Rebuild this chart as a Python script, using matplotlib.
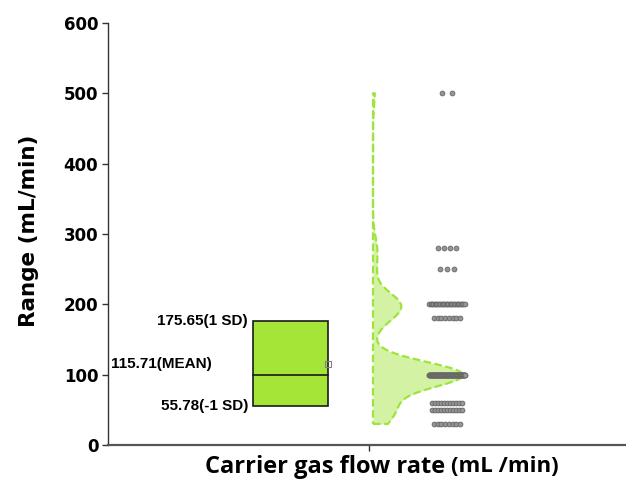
import numpy as np
import matplotlib.pyplot as plt

# flow-rate readings grouped by value (mL/min) and how many times each occurs
flow_values = [30, 50, 60, 100, 180, 200, 250, 280, 500]
flow_counts = [8, 11, 11, 100, 8, 27, 3, 4, 2]

# summary statistics shown on the box
mean_val = 115.71
sd_hi = 175.65
sd_lo = 55.78
median_val = 100

yticks = [0, 100, 200, 300, 400, 500, 600]

plt.rcParams['font.family'] = ['Liberation Sans', 'DejaVu Sans']

fig = plt.figure(figsize=(6.26, 4.87), dpi=100)
ax = fig.add_axes([108 / 626, 42 / 487, 1 - 108 / 626, 422 / 487])

px = 250.0  # pixels per x unit
box_x, box_w = 0.686, 0.30
vio_x = 1.016
dot_x = 1.312

data = np.repeat(flow_values, flow_counts).astype(float)

# box: mean +/- 1 SD with median line
ax.add_patch(plt.Rectangle((box_x - box_w / 2, sd_lo), box_w, sd_hi - sd_lo,
                           facecolor='#a4e537', edgecolor='#1a1a1a', lw=1.2, zorder=3))
ax.plot([box_x - box_w / 2, box_x + box_w / 2], [median_val, median_val],
        color='#1a1a1a', lw=1.2, zorder=4)
ax.plot([box_x + box_w / 2], [mean_val], marker='s', ms=4.5, mfc='none',
        mec='#808080', mew=0.8, zorder=5)

ax.text(box_x - box_w / 2 - 5 / px, sd_hi, f"{sd_hi:.2f}(1 SD)", ha='right', va='center',
        fontsize=11, fontweight='bold')
ax.text(box_x - box_w / 2 - 5 / px, sd_lo, f"{sd_lo:.2f}(-1 SD)", ha='right', va='center',
        fontsize=11, fontweight='bold')
ax.text(box_x - box_w / 2 - 41 / px, mean_val, f"{mean_val:.2f}(MEAN)", ha='right', va='center',
        fontsize=11, fontweight='bold')

# half violin (gaussian kde, clipped to the data range)
h = 18.0
grid = np.linspace(data.min(), data.max(), 600)
dens = np.exp(-0.5 * ((grid[:, None] - data[None, :]) / h) ** 2).sum(axis=1)
width = dens / dens.max() * (90 / px)
ax.fill_betweenx(grid, vio_x, vio_x + width, color='#d3f2a4', lw=0, zorder=2)
ox = np.concatenate([[vio_x], vio_x + width, [vio_x, vio_x]])
oy = np.concatenate([[grid[0]], grid, [grid[-1], grid[0]]])
ax.plot(ox, oy, color='#9ee43c', lw=1.6, ls=(0, (3.4, 1.6)), zorder=3)

# data points, each value spread along its own row
for v, k in zip(flow_values, flow_counts):
    w = 36 * (1 - np.exp(-k / 6.0)) / px
    xs = dot_x + np.linspace(-w / 2, w / 2, k) if k > 1 else np.array([dot_x])
    ax.scatter(xs, np.full(k, v), s=12, facecolor='#959595', edgecolor='#656565',
               linewidths=0.6, zorder=4)

ax.set_ylim(0, 600)
ax.set_xlim(1 - (369 - 108) / px, 1 - (369 - 108) / px + (626 - 108) / px)
ax.set_yticks(yticks)
ax.set_yticklabels([str(t) for t in yticks], fontsize=12, fontweight='bold',
                   family='DejaVu Sans')
ax.set_xticks([1])
ax.set_xticklabels([])
ax.tick_params(axis='y', direction='out', length=4, width=1, color='#333333', pad=3)
ax.tick_params(axis='x', direction='out', length=4, width=1, color='#333333')
for s in ['top', 'right']:
    ax.spines[s].set_visible(False)
ax.spines['left'].set_color('#333333')
ax.spines['bottom'].set_color('#555555')
ax.spines['left'].set_linewidth(1.0)
ax.spines['bottom'].set_linewidth(1.6)

ax.set_ylabel('Range (mL/min)', fontsize=15.5, fontweight='bold', family='DejaVu Sans')
ax.yaxis.set_label_coords((39 - 108) / 518, (445 - 231) / 422)

fig.text(205 / 626, 1 - 467 / 487, 'Carrier gas flow rate', ha='left', va='center',
         fontsize=17, fontweight='bold', family='Open Sans')
fig.text(451 / 626, 1 - 466 / 487, '(mL /min)', ha='left', va='center',
         fontsize=16, fontweight='bold', family='Open Sans')

fig.savefig('out.png', dpi=100)
